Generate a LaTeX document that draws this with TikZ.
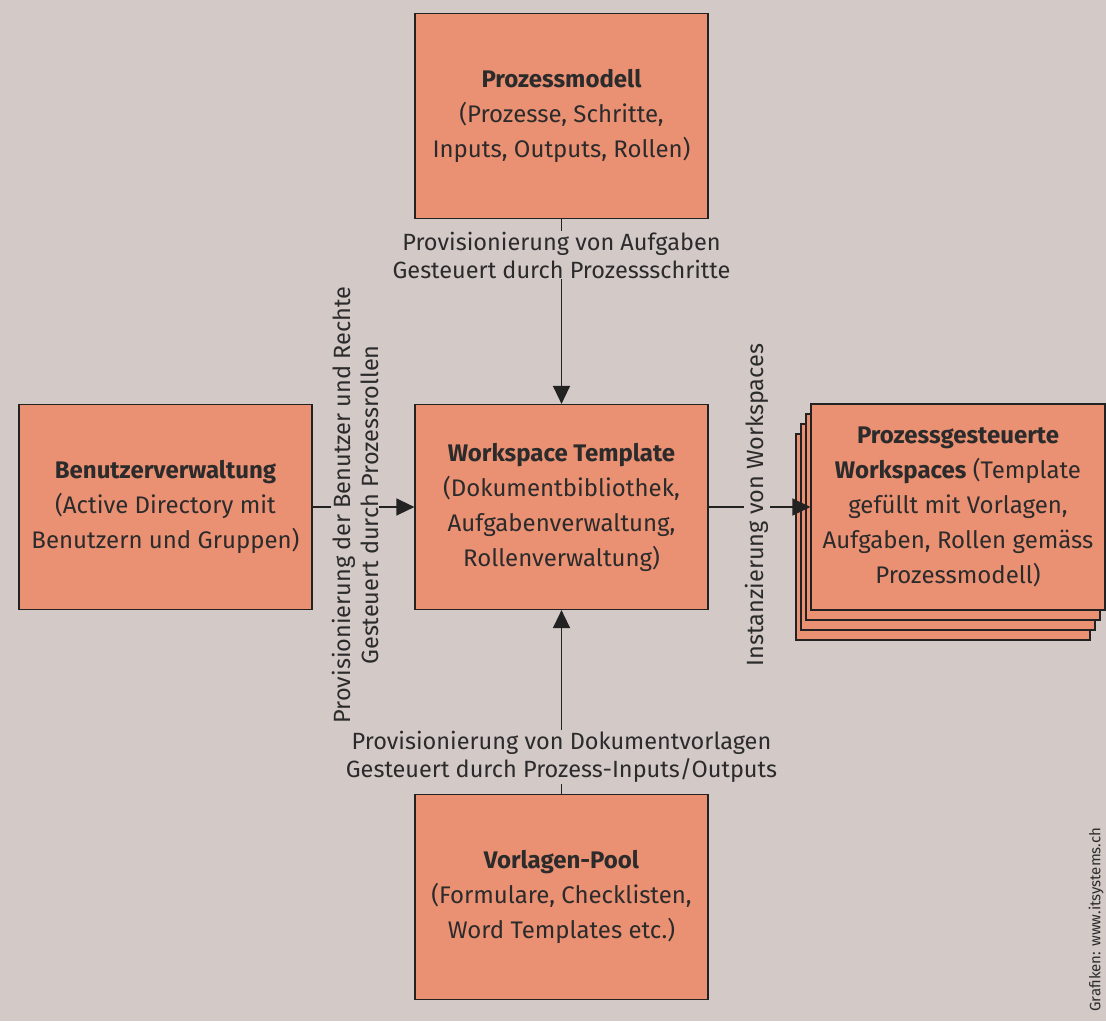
\documentclass[tikz,border=0pt]{standalone}
\usepackage{fontspec}
\setmainfont{Fira Sans}
\usetikzlibrary{arrows.meta, positioning}
\definecolor{bgcol}{HTML}{D3C9C7}
\definecolor{boxcol}{HTML}{EA9073}
\definecolor{linecol}{HTML}{222222}
\definecolor{textcol}{HTML}{2B2B2B}

\begin{document}
\begin{tikzpicture}[x=1pt, y=-1pt,
    box/.style={draw=linecol, line width=1.2pt, fill=boxcol, text=textcol, minimum width=293pt, minimum height=205pt, align=center, font=\fontsize{24}{35}\selectfont, inner sep=0pt},
    lbl/.style={fill=bgcol, text=textcol, align=center, font=\fontsize{23.5}{28}\selectfont, inner sep=1pt},
    conn/.style={draw=linecol, -{Triangle[length=18pt, width=17pt]}, line width=1.4pt}]

  \useasboundingbox (0,0) rectangle (1106,1021);
  \fill[bgcol] (0,0) rectangle (1106,1021);

  \node[box] (model) at (561.5,116) {\textbf{Prozessmodell}\\(Prozesse, Schritte,\\Inputs, Outputs, Rollen)};
  \node[box] (users) at (165.5,507) {\textbf{Benutzerverwaltung}\\(Active Directory mit\\Benutzern und Gruppen)};
  \node[box] (ws) at (561.5,507) {\textbf{Workspace Template}\\(Dokumentbibliothek,\\Aufgabenverwaltung,\\Rollenverwaltung)};
  \node[box] (pool) at (561.5,897) {\textbf{Vorlagen-Pool}\\(Formulare, Checklisten,\\Word Templates etc.)};

  \foreach \d in {3,2,1}
    \draw[draw=linecol, line width=1.2pt, fill=boxcol] ({811-5*\d},{404+10*\d}) rectangle +(294,206);
  \node[box, minimum width=294pt, minimum height=206pt] (stack) at (958,507) {\textbf{Prozessgesteuerte}\\\textbf{Workspaces} (Template\\gefüllt mit Vorlagen,\\Aufgaben, Rollen gemäss\\Prozessmodell)};

  \draw[conn] (model) -- (ws);
  \draw[conn] (users) -- (ws);
  \draw[conn] (ws) -- (stack);
  \draw[conn] (pool) -- (ws);

  \node[lbl] (lbltop) at (561.5,255) {Provisionierung von Aufgaben\\Gesteuert durch Prozessschritte};
  \node[lbl, rotate=90] (lblleft) at (355,505) {Provisionierung der Benutzer und Rechte\\Gesteuert durch Prozessrollen};
  \node[lbl, rotate=90] (lblright) at (757,505) {Instanzierung von Workspaces};
  \node[lbl] (lblbottom) at (561.5,757) {Provisionierung von Dokumentvorlagen\\Gesteuert durch Prozess-Inputs/Outputs};

  \node[rotate=90, anchor=west, text=textcol, font=\fontsize{15}{17}\selectfont] (credit) at (1096,1015) {Grafiken: www.itsystems.ch};
\end{tikzpicture}
\end{document}
